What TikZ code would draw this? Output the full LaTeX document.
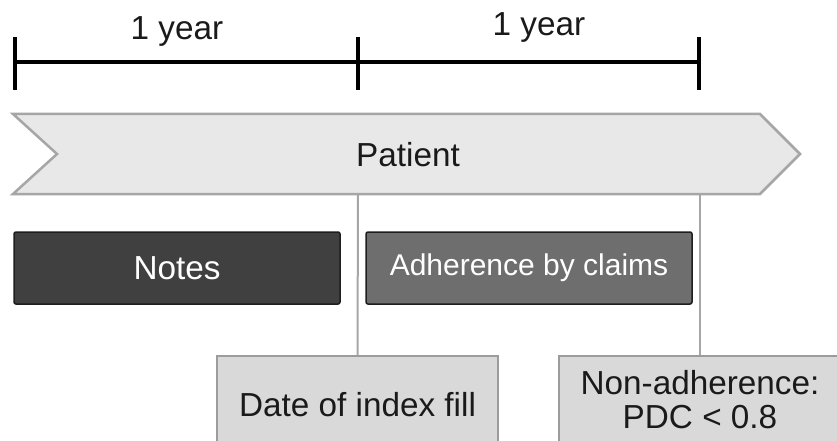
\documentclass[tikz,border=0pt]{standalone}
\usepackage{fontspec}
\setmainfont{Liberation Sans}
\definecolor{chevfill}{HTML}{E8E8E8}
\definecolor{chevline}{HTML}{A6A6A6}
\definecolor{notesfill}{HTML}{404040}
\definecolor{adhfill}{HTML}{6E6E6E}
\definecolor{boxline}{HTML}{1E1E1E}
\definecolor{lightfill}{HTML}{D9D9D9}
\definecolor{lightline}{HTML}{9C9C9C}
\definecolor{txt}{HTML}{1A1A1A}
\begin{document}
\begin{tikzpicture}[x=1pt,y=-1pt,
  bigtext/.style={font=\fontsize{33.3}{36}\selectfont},
  tick/.style={line width=4pt,draw=black},
  darkbox/.style={draw=boxline,line width=1.5pt,rounded corners=2pt,text=white,bigtext,inner sep=0pt},
  lightbox/.style={draw=lightline,fill=lightfill,line width=2pt,text=txt,bigtext,inner sep=0pt,align=center},
  conn/.style={draw=chevline,line width=2pt}]
\clip (0,0) rectangle (837,441);
\fill[white] (0,0) rectangle (837,441);
% timeline
\coordinate (t0) at (15,62);
\coordinate (t1) at (358,62);
\coordinate (t2) at (699,62);
\draw[tick] (t0) -- (t2);
\draw[tick] (15,37) -- (15,90);
\draw[tick] (358,37) -- (358,90);
\draw[tick] (699,37) -- (699,90);
\node[bigtext,text=txt] (y1) at (177,32) {1 year};
\node[bigtext,text=txt] (y2) at (539,28) {1 year};
% chevron
\draw[fill=chevfill,draw=chevline,line width=2.5pt,line join=miter]
  (13,114) -- (760,114) -- (800,154) -- (760,194) -- (13,194) -- (57,154) -- cycle;
\node[bigtext,text=txt] (patient) at (408,155) {Patient};
\coordinate (c1) at (358,194);
\coordinate (c2) at (700,194);
% boxes
\node[darkbox,fill=notesfill,minimum width=326pt,minimum height=72pt] (notes) at (177,268) {Notes};
\node[darkbox,fill=adhfill,minimum width=326pt,minimum height=72pt,font=\fontsize{30}{34}\selectfont] (adh) at (529,268) {Adherence by claims};
\node[lightbox,minimum width=281pt,minimum height=96pt,anchor=north] (date) at (357.5,355) {};
\node[bigtext,text=txt] (datet) at (357.5,405) {Date of index fill};
\node[lightbox,minimum width=282pt,minimum height=96pt,anchor=north] (nonadh) at (700,355) {};
\node[bigtext,text=txt,align=center] (nonadht) at (700,400) {Non-adherence:\\[-2pt]PDC < 0.8};
\draw[conn] (c1) -- (date.north);
\draw[conn] (c2) -- (nonadh.north);
\end{tikzpicture}
\end{document}
